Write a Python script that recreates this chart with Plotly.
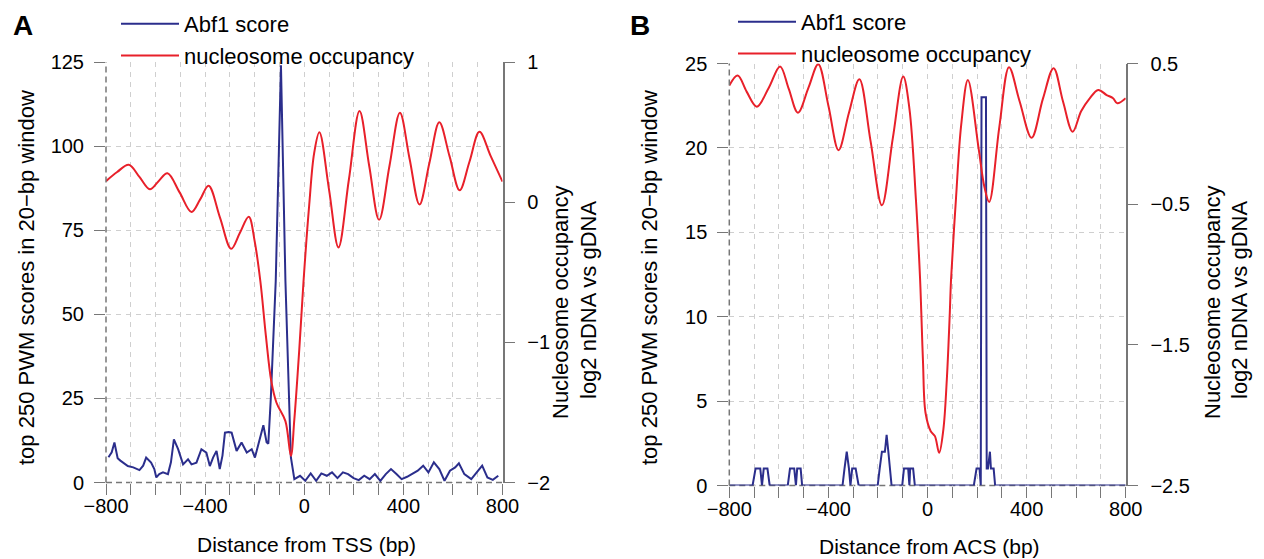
import plotly.graph_objects as go

W, H = 1264, 559

# ---------------- Panel A data (distance from TSS) ----------------
a_nuc_x = [-800, -755, -708, -665, -623, -588, -552, -503, -455, -420, -386, -340, -295,
           -260, -224, -200, -177, -155, -133, -112, -76, -54, -40, -20, -3, 20, 40, 61,
           100, 138, 180, 223, 262, 302, 344, 386, 425, 465, 505, 545, 586, 627, 667,
           707, 752, 800]
a_nuc_y = [0.150, 0.215, 0.267, 0.180, 0.092, 0.150, 0.206, 0.070, -0.070, 0.020, 0.117,
           -0.110, -0.333, -0.220, -0.104, -0.280, -0.566, -0.950, -1.277, -1.431, -1.562,
           -1.810, -1.550, -1.050, -0.566, -0.020, 0.350, 0.498, 0.090, -0.323, 0.160,
           0.650, 0.260, -0.126, 0.260, 0.638, 0.310, -0.017, 0.280, 0.570, 0.330, 0.085,
           0.290, 0.502, 0.330, 0.146]

a_abf_x = [-790, -777, -766, -753, -742, -732, -712, -690, -665, -650, -638, -618, -605,
           -597, -585, -570, -550, -538, -526, -509, -489, -469, -455, -435, -415, -395,
           -381, -368, -354, -341, -330, -320, -305, -293, -273, -253, -232, -212, -199,
           -185, -165, -152, -145, -135, -115, -94, -76, -54, -40,
           -17, 4, 26, 48, 69, 91, 112, 134, 156, 177, 199, 220, 242, 264, 285, 307, 329,
           350, 372, 393, 415, 437, 458, 480, 501, 523, 545, 566, 588, 609, 624, 646, 674,
           696, 718, 739, 761, 783]
a_abf_y = [7.5, 9.0, 11.9, 7.2, 6.5, 5.9, 4.9, 4.5, 3.7, 5.0, 7.4, 5.9, 4.0,
           1.5, 2.5, 3.0, 2.5, 6.0, 12.8, 9.9, 5.4, 6.9, 5.4, 5.9, 9.9, 8.9,
           4.9, 7.4, 9.4, 4.0, 8.0, 14.8, 15.0, 14.8, 9.4, 11.9, 8.9, 9.9, 7.4,
           11.4, 17.0, 12.0, 11.5, 25.0, 60.0, 124.0, 60.0, 7.5, 1.0,
           2.0, 0.5, 2.7, 0.5, 2.7, 2.0, 3.0, 1.3, 3.0, 2.5, 1.3, 0.7, 2.0, 1.0, 2.5, 0.5, 2.5,
           4.0, 2.5, 1.0, 1.7, 2.5, 3.5, 5.0, 3.0, 6.0, 4.0, 0.5, 3.5, 4.5, 5.7, 2.5, 1.0,
           3.0, 5.0, 1.5, 0.8, 2.0]

# ---------------- Panel B data (distance from ACS) ----------------
b_nuc_x = [-800, -766, -730, -689, -640, -595, -560, -523, -480, -441, -400, -359, -317,
           -275, -230, -184, -140, -98, -73, -47, -30, -25, -18, -8, 13, 30, 47, 64, 78,
           90, 95, 115, 136, 163, 206, 230, 249, 290, 329, 372, 420, 466, 509, 547, 586,
           620, 654, 689, 723, 749, 766, 800]
b_nuc_y = [0.343, 0.414, 0.300, 0.193, 0.330, 0.479, 0.320, 0.150, 0.330, 0.495, 0.200,
           -0.116, 0.150, 0.388, -0.050, -0.508, -0.030, 0.407, 0.180, -0.460, -1.030,
           -1.273, -1.628, -1.983, -2.114, -2.149, -2.268, -2.102, -1.746, -1.273, -1.036,
           -0.460, 0.063, 0.383, -0.100, -0.380, -0.484, 0.050, 0.474, 0.230, -0.028,
           0.250, 0.467, 0.230, 0.015, 0.160, 0.250, 0.312, 0.276, 0.253, 0.217, 0.253]

b_abf_x = [-800, -706, -694, -675, -668, -661, -646, -637,
           -564, -555, -538, -531, -526, -512, -506,
           -343, -335, -326, -317, -311, -304, -290, -278,
           -201, -193, -184, -172, -165, -158, -151, -145,
           -102, -95, -78, -73, -70, -58, -51,
           187, 198, 210, 215, 218, 236, 239, 244, 249, 252, 256, 267, 273, 800]
b_abf_y = [0, 0, 1, 1, 0, 1, 1, 0,
           0, 1, 1, 0, 1, 1, 0,
           0, 1, 2, 1, 0, 1, 1, 0,
           0, 1, 2, 2, 3, 2, 1, 0,
           0, 1, 1, 0, 1, 1, 0,
           0, 1, 1, 0, 23, 23, 1, 1, 2, 2, 1, 1, 0, 0]

x_ticks = [-800, -400, 0, 400, 800]
a_left_ticks = [0, 25, 50, 75, 100, 125]
a_right_ticks = [-2, -1, 0, 1]
b_left_ticks = [0, 5, 10, 15, 20, 25]
b_right_ticks = [-2.5, -1.5, -0.5, 0.5]

BLUE = "#2b2e8c"
RED = "#e8202a"
FONT = "Liberation Sans, Arial, sans-serif"
GRID = "#cfcfcf"
AX = "#777777"
GDASH = "5px,5px"

fig = go.Figure()
fig.add_trace(go.Scatter(x=a_abf_x, y=a_abf_y, mode="lines", name="Abf1 score",
                         line=dict(color=BLUE, width=2), xaxis="x", yaxis="y", legend="legend"))
fig.add_trace(go.Scatter(x=a_nuc_x, y=a_nuc_y, mode="lines", name="nucleosome occupancy",
                         line=dict(color=RED, width=2, shape="spline", smoothing=1.0),
                         xaxis="x", yaxis="y2", legend="legend"))
fig.add_trace(go.Scatter(x=b_abf_x, y=b_abf_y, mode="lines", name="Abf1 score",
                         line=dict(color=BLUE, width=2), xaxis="x2", yaxis="y3", legend="legend2"))
fig.add_trace(go.Scatter(x=b_nuc_x, y=b_nuc_y, mode="lines", name="nucleosome occupancy",
                         line=dict(color=RED, width=2, shape="spline", smoothing=1.0),
                         xaxis="x2", yaxis="y4", legend="legend2"))

def px(v):
    return v / W

def py(v):
    return 1 - v / H

tickfont = dict(family=FONT, size=20, color="black")

def xaxis(domain, anchor):
    return dict(domain=domain, anchor=anchor, range=[-800, 800], tickvals=x_ticks,
                ticks="outside", ticklen=11, tickcolor=AX, tickwidth=1.3,
                showgrid=True, gridcolor=GRID, griddash=GDASH, gridwidth=1,
                minor=dict(dtick=100, tick0=-800, ticks="outside", ticklen=11, tickcolor=AX,
                           tickwidth=1.3, showgrid=True, gridcolor=GRID, griddash=GDASH),
                showline=False, zeroline=False, tickfont=tickfont, ticklabelstandoff=-6,
                automargin=False, fixedrange=True)

def yleft(domain, anchor, rng, tv):
    return dict(domain=domain, anchor=anchor, range=rng, tickvals=tv, ticks="outside",
                ticklen=11, tickcolor=AX, tickwidth=1.3, showgrid=True, gridcolor=GRID,
                griddash=GDASH, showline=False, zeroline=False, tickfont=tickfont,
                ticklabelstandoff=6, automargin=False)

def yright(overlay, anchor, rng, tv):
    return dict(overlaying=overlay, anchor=anchor, side="right", range=rng, tickvals=tv,
                ticks="outside", ticklen=11, tickcolor=AX, tickwidth=1.3, showgrid=False,
                showline=True, linecolor=AX, linewidth=1.5, zeroline=False,
                tickfont=tickfont, ticklabelstandoff=8, automargin=False)

ya_dom = [py(482.5), py(62)]
yb_dom = [py(485.5), py(63.5)]
xa_dom = [px(106), px(502.5)]
xb_dom = [px(729.3), px(1125.7)]

legend_style = dict(xanchor="left", yanchor="top", bgcolor="rgba(0,0,0,0)",
                    font=dict(family=FONT, size=22, color="black"), itemwidth=58,
                    tracegroupgap=0, borderwidth=0)

layout = dict(
    width=W, height=H, margin=dict(l=0, r=0, t=0, b=0, autoexpand=False),
    paper_bgcolor="white", plot_bgcolor="white",
    font=dict(family=FONT, color="black"),
    xaxis=xaxis(xa_dom, "y"),
    xaxis2=xaxis(xb_dom, "y3"),
    yaxis=yleft(ya_dom, "x", [0, 125], a_left_ticks),
    yaxis2=yright("y", "x", [-2, 1], a_right_ticks),
    yaxis3=yleft(yb_dom, "x2", [0, 25], b_left_ticks),
    yaxis4=yright("y3", "x2", [-2.5, 0.5], b_right_ticks),
    legend=dict(x=px(116), y=py(3), **legend_style),
    legend2=dict(x=px(733), y=py(1), **legend_style),
    showlegend=True,
)
fig.update_layout(**layout)

# dashed axis lines (left and bottom) for both panels
shapes = []
for xr, yr in (("x", "y"), ("x2", "y3")):
    shapes.append(dict(type="line", xref=xr + " domain", yref=yr + " domain", x0=0, x1=0,
                       y0=0, y1=1, line=dict(color=AX, width=1.5, dash="6px,4px"), layer="above"))
    shapes.append(dict(type="line", xref=xr + " domain", yref=yr + " domain", x0=0, x1=1,
                       y0=0, y1=0, line=dict(color=AX, width=1.5, dash="6px,4px"), layer="below"))
fig.update_layout(shapes=shapes)

def note(text, x, y, size, angle=0):
    return dict(text=text, x=px(x), y=py(y), xref="paper", yref="paper", textangle=angle,
                xanchor="center", yanchor="middle",
                showarrow=False, font=dict(size=size, family=FONT, color="black"))

ann = [
    note("<b>A</b>", 23, 26, 28),
    note("<b>B</b>", 640, 26, 28),
    note("Distance from TSS (bp)", 306, 544, 21),
    note("Distance from ACS (bp)", 929, 546, 21),
    note("top 250 PWM scores in 20\u2212bp window", 27, 278, 22, -90),
    note("top 250 PWM scores in 20\u2212bp window", 650, 278, 22, -90),
    note("Nucleosome occupancy", 560, 302, 22, -90),
    note("log2 nDNA vs gDNA", 588, 300, 22, -90),
    note("Nucleosome occupancy", 1212, 302, 22, -90),
    note("log2 nDNA vs gDNA", 1239, 300, 22, -90),
]
fig.update_layout(annotations=ann)

fig.write_html("out.html", config={"displayModeBar": False},
               post_script="document.body.style.margin='0';document.body.style.padding='0';"
                           "document.body.style.overflow='hidden';")
